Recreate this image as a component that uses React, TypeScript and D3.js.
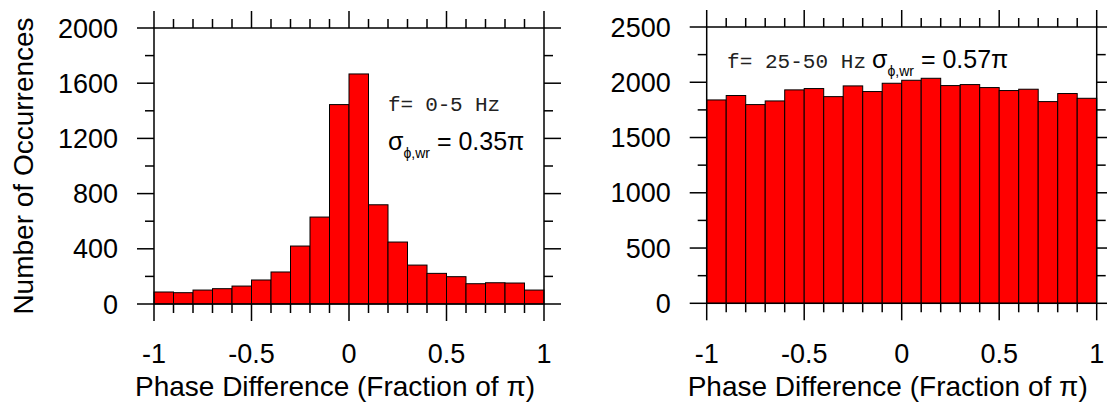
import React from "react";
import * as d3 from "d3";

// phase-difference bins (fraction of pi)
const BIN_EDGES = [-1, -0.9, -0.8, -0.7, -0.6, -0.5, -0.4, -0.3, -0.2, -0.1, 0, 0.1, 0.2, 0.3, 0.4, 0.5, 0.6, 0.7, 0.8, 0.9, 1];
const LOW_COUNTS = [87, 82, 101, 111, 130, 174, 232, 420, 630, 1445, 1667, 719, 449, 282, 222, 198, 147, 154, 152, 101];
const HIGH_COUNTS = [1840, 1880, 1798, 1831, 1931, 1943, 1870, 1967, 1916, 1991, 2018, 2036, 1970, 1979, 1952, 1925, 1937, 1825, 1898, 1855];

const X_TICKS = [-1, -0.5, 0, 0.5, 1];
const X_TICK_LABELS = ["-1", "-0.5", "0", "0.5", "1"];
const LOW_Y_TICKS = [0, 400, 800, 1200, 1600, 2000];
const HIGH_Y_TICKS = [0, 500, 1000, 1500, 2000, 2500];

const SANS = "'Liberation Sans', Arial, Helvetica, sans-serif";
const MONO = "'Liberation Mono', 'Courier New', monospace";

type PanelProps = {
  left: number;
  right: number;
  top: number;
  bottom: number;
  counts: number[];
  yTicks: number[];
  yLabel?: string;
  note: React.ReactNode;
};

function Panel({ left, right, top, bottom, counts, yTicks, yLabel, note }: PanelProps) {
  const x = d3.scaleLinear().domain([-1, 1]).range([left, right]);
  const y = d3
    .scaleLinear()
    .domain([0, yTicks[yTicks.length - 1]])
    .range([bottom, top]);

  const minorY = d3.pairs(yTicks).map(([a, b]) => (a + b) / 2);
  const major = 17;
  const minor = 9;
  const sw = 1.5;

  return (
    <g>
      {counts.map((c, i) => (
        <rect
          key={i}
          x={x(BIN_EDGES[i])}
          y={y(c)}
          width={x(BIN_EDGES[i + 1]) - x(BIN_EDGES[i])}
          height={y(0) - y(c)}
          fill="#ff0000"
          stroke="#000"
          strokeWidth={1}
        />
      ))}

      <rect x={left} y={top} width={right - left} height={bottom - top} fill="none" stroke="#000" strokeWidth={sw} />

      {/* x ticks, top and bottom, pointing out */}
      {BIN_EDGES.map((t) => {
        const len = X_TICKS.some((m) => Math.abs(m - t) < 1e-9) ? major : minor;
        return (
          <g key={t} stroke="#000" strokeWidth={sw}>
            <line x1={x(t)} x2={x(t)} y1={bottom} y2={bottom + len} />
            <line x1={x(t)} x2={x(t)} y1={top} y2={top - len} />
          </g>
        );
      })}

      {/* y ticks, left and right */}
      {[...yTicks.map((t) => [t, major]), ...minorY.map((t) => [t, minor])].map(([t, len]) => (
        <g key={`y${t}`} stroke="#000" strokeWidth={sw}>
          <line x1={left - len} x2={left} y1={y(t)} y2={y(t)} />
          <line x1={right} x2={right + len} y1={y(t)} y2={y(t)} />
        </g>
      ))}

      {yTicks.map((t) => (
        <text key={`yl${t}`} x={left - 36} y={y(t) + 9.5} textAnchor="end" fontSize={27} fontFamily={SANS}>
          {t}
        </text>
      ))}

      {X_TICKS.map((t, i) => (
        <text key={`xl${t}`} x={x(t)} y={363} textAnchor="middle" fontSize={27} fontFamily={SANS}>
          {X_TICK_LABELS[i]}
        </text>
      ))}

      <text x={(left + right) / 2 - 14} y={396} textAnchor="middle" fontSize={28} fontFamily={SANS}>
        Phase Difference (Fraction of π)
      </text>

      {yLabel && (
        <text
          transform={`translate(33,${(top + bottom) / 2}) rotate(-90)`}
          textAnchor="middle"
          fontSize={28}
          fontFamily={SANS}
        >
          {yLabel}
        </text>
      )}

      {note}
    </g>
  );
}

function Sigma({ x, y, value }: { x: number; y: number; value: string }) {
  return (
    <text x={x} y={y} fontSize={25} fontFamily={SANS}>
      σ
      <tspan fontSize={14} dy={8}>
        ϕ,wr
      </tspan>
      <tspan dy={-8}>{` = ${value}π`}</tspan>
    </text>
  );
}

export default function App() {
  return (
    <svg
      width={1107}
      height={402}
      style={{ position: "absolute", left: 0, top: 0, background: "#fff" }}
    >
      <Panel
        left={154}
        right={544}
        top={28}
        bottom={304}
        counts={LOW_COUNTS}
        yTicks={LOW_Y_TICKS}
        yLabel="Number of Occurrences"
        note={
          <g>
            <text x={388} y={111} fontSize={21} fontFamily={MONO} fill="#222" textLength={112} lengthAdjust="spacing">
              f= 0-5 Hz
            </text>
            <Sigma x={388} y={150} value="0.35" />
          </g>
        }
      />
      <Panel
        left={706.7}
        right={1096.7}
        top={27}
        bottom={303.3}
        counts={HIGH_COUNTS}
        yTicks={HIGH_Y_TICKS}
        note={
          <g>
            <text x={727} y={68} fontSize={21} fontFamily={MONO} fill="#222" textLength={139} lengthAdjust="spacing">
              f= 25-50 Hz
            </text>
            <Sigma x={872} y={68} value="0.57" />
          </g>
        }
      />
    </svg>
  );
}
